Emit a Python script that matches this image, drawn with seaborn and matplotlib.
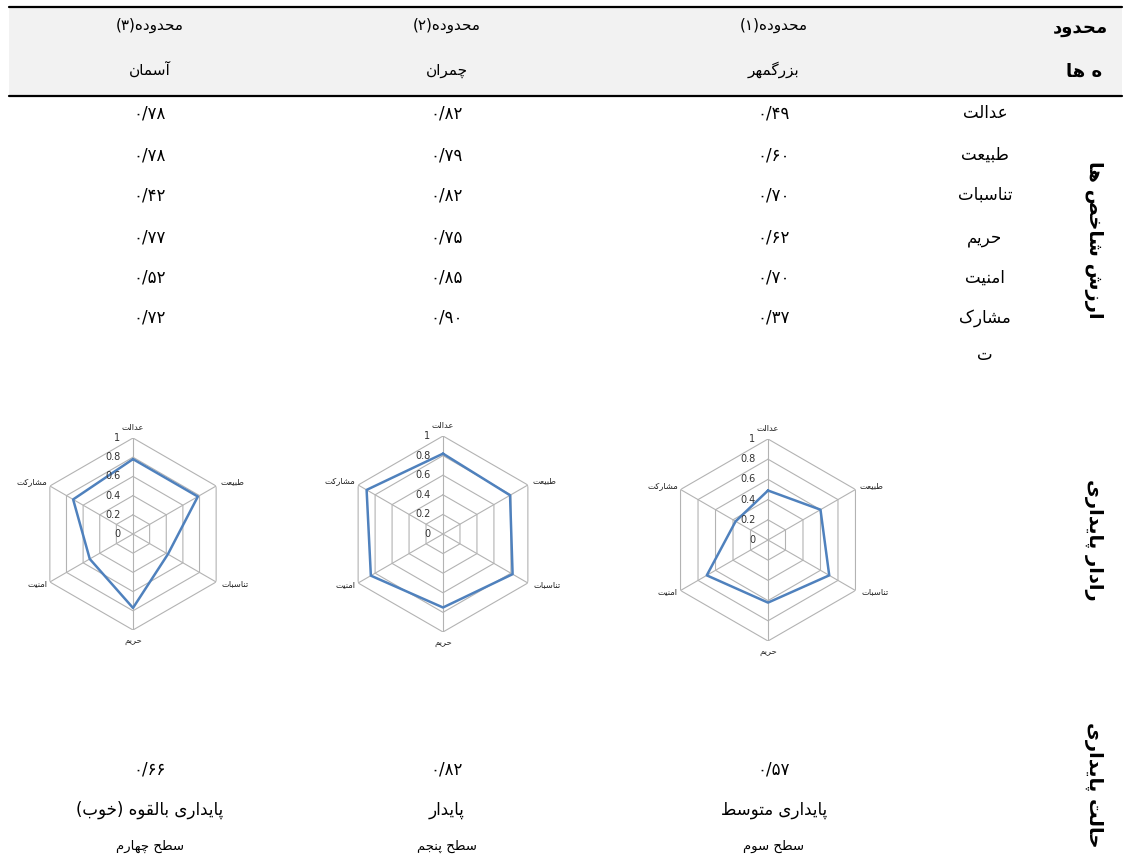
import numpy as np
import pandas as pd
import matplotlib
matplotlib.use("Agg")
import matplotlib.pyplot as plt
from matplotlib.patches import Rectangle
from matplotlib.lines import Line2D
import seaborn as sns

# ---------------- data ----------------
districts = ["محدوده(۱)", "محدوده(۲)", "محدوده(۳)"]
district_names = ["بزرگمهر", "چمران", "آسمان"]
indicators = ["عدالت", "طبیعت", "تناسبات", "حریم", "امنیت", "مشارکت"]
values_bozorgmehr = [0.49, 0.60, 0.70, 0.62, 0.70, 0.37]
values_chamran = [0.82, 0.79, 0.82, 0.75, 0.85, 0.90]
values_aseman = [0.78, 0.78, 0.42, 0.77, 0.52, 0.72]
sustainability_index = [0.57, 0.82, 0.66]
sustainability_state = ["پایداری متوسط", "پایدار", "پایداری بالقوه (خوب)"]
sustainability_level = ["سطح سوم", "سطح پنجم", "سطح چهارم"]
radar_ticks = [0, 0.2, 0.4, 0.6, 0.8, 1]
row_titles = ["ارزش شاخص ها", "رادار پایداری", "حالت پایداری"]
corner_title = ["محدود", "ه ها"]

# ---------------- Persian shaping helpers ----------------
_FORMS = {
    0x0621: (0xFE80, None, None, None),
    0x0622: (0xFE81, 0xFE82, None, None),
    0x0623: (0xFE83, 0xFE84, None, None),
    0x0624: (0xFE85, 0xFE86, None, None),
    0x0625: (0xFE87, 0xFE88, None, None),
    0x0626: (0xFE89, 0xFE8A, 0xFE8B, 0xFE8C),
    0x0627: (0xFE8D, 0xFE8E, None, None),
    0x0628: (0xFE8F, 0xFE90, 0xFE91, 0xFE92),
    0x0629: (0xFE93, 0xFE94, None, None),
    0x062A: (0xFE95, 0xFE96, 0xFE97, 0xFE98),
    0x062B: (0xFE99, 0xFE9A, 0xFE9B, 0xFE9C),
    0x062C: (0xFE9D, 0xFE9E, 0xFE9F, 0xFEA0),
    0x062D: (0xFEA1, 0xFEA2, 0xFEA3, 0xFEA4),
    0x062E: (0xFEA5, 0xFEA6, 0xFEA7, 0xFEA8),
    0x062F: (0xFEA9, 0xFEAA, None, None),
    0x0630: (0xFEAB, 0xFEAC, None, None),
    0x0631: (0xFEAD, 0xFEAE, None, None),
    0x0632: (0xFEAF, 0xFEB0, None, None),
    0x0633: (0xFEB1, 0xFEB2, 0xFEB3, 0xFEB4),
    0x0634: (0xFEB5, 0xFEB6, 0xFEB7, 0xFEB8),
    0x0635: (0xFEB9, 0xFEBA, 0xFEBB, 0xFEBC),
    0x0636: (0xFEBD, 0xFEBE, 0xFEBF, 0xFEC0),
    0x0637: (0xFEC1, 0xFEC2, 0xFEC3, 0xFEC4),
    0x0638: (0xFEC5, 0xFEC6, 0xFEC7, 0xFEC8),
    0x0639: (0xFEC9, 0xFECA, 0xFECB, 0xFECC),
    0x063A: (0xFECD, 0xFECE, 0xFECF, 0xFED0),
    0x0641: (0xFED1, 0xFED2, 0xFED3, 0xFED4),
    0x0642: (0xFED5, 0xFED6, 0xFED7, 0xFED8),
    0x0644: (0xFEDD, 0xFEDE, 0xFEDF, 0xFEE0),
    0x0645: (0xFEE1, 0xFEE2, 0xFEE3, 0xFEE4),
    0x0646: (0xFEE5, 0xFEE6, 0xFEE7, 0xFEE8),
    0x0647: (0xFEE9, 0xFEEA, 0xFEEB, 0xFEEC),
    0x0648: (0xFEED, 0xFEEE, None, None),
    0x067E: (0xFB56, 0xFB57, 0xFB58, 0xFB59),
    0x0686: (0xFB7A, 0xFB7B, 0xFB7C, 0xFB7D),
    0x0698: (0xFB8A, 0xFB8B, None, None),
    0x06A9: (0xFB8E, 0xFB8F, 0xFB90, 0xFB91),
    0x06AF: (0xFB92, 0xFB93, 0xFB94, 0xFB95),
    0x06CC: (0xFBFC, 0xFBFD, 0xFBFE, 0xFBFF),
}
_LTR = set("0123456789۰۱۲۳۴۵۶۷۸۹./")
_MIRROR = {"(": ")", ")": "("}


def _shape(word):
    cps = [ord(c) for c in word]
    out = []
    for i, c in enumerate(cps):
        f = _FORMS.get(c)
        if f is None:
            out.append(chr(c))
            continue
        pf = _FORMS.get(cps[i - 1]) if i > 0 else None
        nf = _FORMS.get(cps[i + 1]) if i + 1 < len(cps) else None
        join_prev = pf is not None and pf[2] is not None and f[1] is not None
        join_next = nf is not None and nf[1] is not None and f[2] is not None
        if join_prev and join_next:
            g = f[3]
        elif join_prev:
            g = f[1]
        elif join_next:
            g = f[2]
        else:
            g = f[0]
        out.append(chr(g))
    return "".join(out)


def fa(s):
    s = s.replace("\u064A", "\u06CC").replace("\u0643", "\u06A9")
    sh = _shape(s)
    runs = []
    for ch in sh:
        kind = ch in _LTR
        if runs and runs[-1][0] == kind:
            runs[-1][1].append(ch)
        else:
            runs.append([kind, [ch]])
    out = []
    for kind, chars in reversed(runs):
        if kind:
            out.append("".join(chars))
        else:
            out.append("".join(_MIRROR.get(c, c) for c in reversed(chars)))
    return "".join(out)


_PD = str.maketrans("0123456789.", "۰۱۲۳۴۵۶۷۸۹/")


def pnum(v):
    return f"{v:.2f}".translate(_PD)


# ---------------- figure ----------------
sns.set_style("white")
plt.rcParams["font.family"] = ["DejaVu Sans"]

W, H = 1124, 858
fig = plt.figure(figsize=(W / 100, H / 100), dpi=100)
fig.patch.set_facecolor("white")


def X(x):
    return x / W


def Y(y):
    return 1 - y / H


# header band and rules
fig.add_artist(Rectangle((X(9), Y(95)), X(1122) - X(9), Y(8) - Y(95),
                         transform=fig.transFigure, facecolor="#F2F2F2",
                         edgecolor="none", zorder=0))
for yy in (7, 96):
    fig.add_artist(Line2D([X(9), X(1122)], [Y(yy), Y(yy)], color="black",
                          lw=1.6, transform=fig.transFigure))

col_x = [774, 447, 150]
TXT = dict(ha="center", va="center", color="black")

for j in range(3):
    fig.text(X(col_x[j]), Y(25), fa(districts[j]), fontsize=11, **TXT)
    fig.text(X(col_x[j]), Y(70), fa(district_names[j]), fontsize=11, **TXT)

fig.text(X(1080), Y(28), fa(corner_title[0]), fontsize=13, fontweight="bold", **TXT)
fig.text(X(1084), Y(72), fa(corner_title[1]), fontsize=13, fontweight="bold", **TXT)

# indicator rows
row_y = [113, 155, 195, 238, 278, 318]
all_values = [values_bozorgmehr, values_chamran, values_aseman]
for k, name in enumerate(indicators):
    if k == len(indicators) - 1:
        fig.text(X(985), Y(row_y[k]), fa(name[:-1]), fontsize=12, **TXT)
        fig.text(X(985), Y(row_y[k] + 37), fa(name[-1]), fontsize=12, **TXT)
    else:
        fig.text(X(985), Y(row_y[k]), fa(name), fontsize=12, **TXT)
    for j in range(3):
        fig.text(X(col_x[j]), Y(row_y[k]), pnum(all_values[j][k]), fontsize=12, **TXT)

# side titles
for title, yy in zip(row_titles, [240, 540, 785]):
    fig.text(X(1093), Y(yy), fa(title), fontsize=14, fontweight="bold",
             rotation=-90, **TXT)

# bottom rows
for j in range(3):
    fig.text(X(col_x[j]), Y(770), pnum(sustainability_index[j]), fontsize=12, **TXT)
    fig.text(X(col_x[j]), Y(810), fa(sustainability_state[j]), fontsize=12, **TXT)
    fig.text(X(col_x[j]), Y(846), fa(sustainability_level[j]), fontsize=9.5, **TXT)

# ---------------- radar charts ----------------
radar_geom = [(768, 540, 101), (443, 534, 98), (133, 534, 96)]
n = len(indicators)
theta = np.arange(n) * 2 * np.pi / n
theta_c = np.r_[theta, theta[0]]
label_offsets = [((0, 4), "center", "bottom"),
                 ((3, 3), "left", "center"),
                 ((4, -1), "left", "center"),
                 ((0, -4), "center", "top"),
                 ((-2, -1), "right", "center"),
                 ((-2, 3), "right", "center")]

for j in range(3):
    cx, cy, r = radar_geom[j]
    ax = fig.add_axes([X(cx - r), Y(cy + r), 2 * r / W, 2 * r / H], projection="polar")
    ax.set_theta_offset(np.pi / 2)
    ax.set_theta_direction(-1)
    ax.set_ylim(0, 1)
    ax.grid(False)
    ax.spines["polar"].set_visible(False)
    ax.set_xticks([])
    ax.set_yticks([])
    ax.patch.set_alpha(0)
    for lev in radar_ticks[1:]:
        ax.plot(theta_c, [lev] * (n + 1), color="#B3B3B3", lw=0.8, zorder=1)
    for t in theta:
        ax.plot([t, t], [0, 1], color="#B3B3B3", lw=0.8, zorder=1)
    vals = all_values[j]
    df = pd.DataFrame({"theta": theta_c, "value": list(vals) + [vals[0]]})
    sns.lineplot(data=df, x="theta", y="value", ax=ax, sort=False, estimator=None,
                 color="#4F81BD", lw=1.8, zorder=3)
    ax.set_xlabel("")
    ax.set_ylabel("")
    for lev in radar_ticks:
        ax.annotate(f"{lev:g}", xy=(0, lev), xytext=(-9, 0), textcoords="offset points",
                    ha="right", va="center", fontsize=7, color="#333333", zorder=4)
    for k, name in enumerate(indicators):
        off, ha, va = label_offsets[k]
        ax.annotate(fa(name), xy=(theta[k], 1), xytext=off, textcoords="offset points",
                    ha=ha, va=va, fontsize=6, color="#222222", annotation_clip=False)

fig.savefig("out.png", dpi=100)
